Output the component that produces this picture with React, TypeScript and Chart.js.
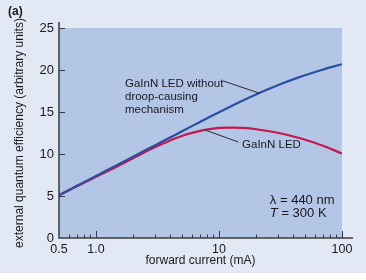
import React, { useEffect, useRef } from "react";
import { Chart, registerables } from "chart.js";

Chart.register(...registerables);

// ---- data ----
const currents = [0.5, 0.7, 1, 1.5, 2, 3, 4, 5, 7, 10, 13, 15, 20, 30, 45, 70, 100];
const noDroopEQE = [5.1, 6.21, 7.39, 8.73, 9.68, 11.01, 11.96, 12.7, 13.81, 14.97, 15.8, 16.24, 17.09, 18.18, 19.15, 20.05, 20.69];
const ledEQE = [5.1, 6.15, 7.3, 8.55, 9.5, 10.8, 11.6, 12.15, 12.75, 13.1, 13.15, 13.12, 12.95, 12.53, 11.9, 10.98, 10.05];

const xTickValues = [0.5, 1, 10, 100];
const xTickLabels = ["0.5", "1.0", "10", "100"];
const xMajorMarks = [1, 10, 100];
const xMinorMarks = [0.6, 0.7, 0.8, 0.9, 2, 3, 4, 5, 6, 7, 8, 9, 20, 30, 40, 50, 60, 70, 80, 90];
const yTickValues = [5, 10, 15, 20, 25];

const noDroopLabelLines = ["GaInN LED without", "droop-causing", "mechanism"];
const noDroopLabelPos = [1.72, 17.98];
const noDroopLeader = [[10.8, 18.7], [21.1, 17.26]];
const ledLabel = "GaInN LED";
const ledLabelPos = [15.4, 10.7];
const ledLeader = [[7.7, 12.86], [14.3, 11.43]];
const condLine1 = "λ = 440 nm";
const condLine2Italic = "T";
const condLine2Rest = " = 300 K";
const condPos = [25.9, 4.05];
const cond2Pos = [25.9, 2.5];

const FONT = "'Liberation Sans', Arial, sans-serif";
const TEXT = "#18181e";

const decorPlugin = {
  id: "decor",
  beforeDraw(chart: any) {
    const { ctx, chartArea } = chart;
    ctx.save();
    ctx.fillStyle = "#ffffff";
    ctx.fillRect(0, 0, chart.width, chart.height);
    ctx.fillStyle = "#e3e9f4";
    ctx.fillRect(0, 0, chart.width, 273);
    ctx.fillStyle = "#b4c6e6";
    ctx.fillRect(chartArea.left, chartArea.top, chartArea.right - chartArea.left, chartArea.bottom - chartArea.top);
    ctx.restore();
  },
  afterDraw(chart: any) {
    const { ctx, chartArea } = chart;
    const xs = chart.scales.x;
    const ys = chart.scales.y;
    const px = (v: number) => xs.getPixelForValue(v);
    const py = (v: number) => ys.getPixelForValue(v);
    ctx.save();
    // axes
    ctx.strokeStyle = "#3a3a40";
    ctx.lineWidth = 1.5;
    ctx.beginPath();
    ctx.moveTo(chartArea.left, chartArea.top - 6);
    ctx.lineTo(chartArea.left, chartArea.bottom);
    ctx.lineTo(chartArea.right + 11, chartArea.bottom);
    ctx.stroke();
    ctx.lineWidth = 1;
    ctx.beginPath();
    yTickValues.forEach((v) => {
      const y = Math.round(py(v)) + 0.5;
      ctx.moveTo(chartArea.left, y);
      ctx.lineTo(chartArea.left + 6, y);
    });
    xMajorMarks.forEach((v) => {
      const x = Math.round(px(v)) + 0.5;
      ctx.moveTo(x, chartArea.bottom);
      ctx.lineTo(x, chartArea.bottom - 7);
    });
    xMinorMarks.forEach((v) => {
      const x = Math.round(px(v)) + 0.5;
      ctx.moveTo(x, chartArea.bottom);
      ctx.lineTo(x, chartArea.bottom - 3.5);
    });
    ctx.stroke();

    // leaders
    ctx.strokeStyle = "#2b2b30";
    ctx.lineWidth = 1;
    [noDroopLeader, ledLeader].forEach((seg) => {
      ctx.beginPath();
      ctx.moveTo(px(seg[0][0]), py(seg[0][1]));
      ctx.lineTo(px(seg[1][0]), py(seg[1][1]));
      ctx.stroke();
    });

    // annotation text
    ctx.fillStyle = TEXT;
    ctx.textBaseline = "alphabetic";
    ctx.textAlign = "left";
    ctx.font = `11.5px ${FONT}`;
    noDroopLabelLines.forEach((t, i) => {
      ctx.fillText(t, px(noDroopLabelPos[0]), py(noDroopLabelPos[1]) + i * 13);
    });
    ctx.fillText(ledLabel, px(ledLabelPos[0]), py(ledLabelPos[1]));
    ctx.font = `13px ${FONT}`;
    ctx.fillText(condLine1, px(condPos[0]), py(condPos[1]));
    ctx.font = `italic 13px ${FONT}`;
    const x2 = px(cond2Pos[0]);
    ctx.fillText(condLine2Italic, x2, py(cond2Pos[1]));
    const w = ctx.measureText(condLine2Italic).width;
    ctx.font = `13px ${FONT}`;
    ctx.fillText(condLine2Rest, x2 + w, py(cond2Pos[1]));

    // panel label
    ctx.font = `bold 12px ${FONT}`;
    ctx.textBaseline = "middle";
    ctx.fillText("(a)", 8, 12);
    ctx.restore();
  },
};

export default function App() {
  const ref = useRef<HTMLCanvasElement | null>(null);
  useEffect(() => {
    document.body.style.margin = "0";
    const canvas = ref.current;
    if (!canvas) return;
    const chart = new Chart(canvas, {
      type: "line",
      data: {
        datasets: [
          {
            label: "GaInN LED without droop-causing mechanism",
            data: currents.map((c, i) => ({ x: c, y: noDroopEQE[i] })),
            borderColor: "#2a4ea2",
            borderWidth: 2.2,
            pointRadius: 0,
            tension: 0.4,
          },
          {
            label: "GaInN LED",
            data: currents.map((c, i) => ({ x: c, y: ledEQE[i] })),
            borderColor: "#c4184e",
            borderWidth: 2.2,
            pointRadius: 0,
            tension: 0.4,
          },
        ],
      },
      options: {
        animation: false,
        responsive: false,
        maintainAspectRatio: false,
        layout: { padding: { top: 28, right: 24, left: 0, bottom: 0 } },
        plugins: { legend: { display: false }, tooltip: { enabled: false } },
        scales: {
          x: {
            type: "logarithmic",
            min: 0.5,
            max: 100,
            afterBuildTicks: (s: any) => {
              s.ticks = xTickValues.map((v) => ({ value: v }));
            },
            afterFit: (s: any) => {
              s.height = 42;
            },
            grid: { display: false, drawTicks: false },
            border: { display: false },
            ticks: {
              autoSkip: false,
              maxRotation: 0,
              padding: 4,
              color: TEXT,
              font: { family: FONT, size: 12.5 },
              callback: (v: any) => {
                const i = xTickValues.indexOf(Number(v));
                return i >= 0 ? xTickLabels[i] : "";
              },
            },
            title: {
              display: true,
              text: "forward current (mA)",
              color: TEXT,
              font: { family: FONT, size: 12 },
              padding: { top: 0, bottom: 12 },
            },
          },
          y: {
            min: 0,
            max: 25,
            afterFit: (s: any) => {
              s.width = 59;
            },
            grid: { display: false, drawTicks: false },
            border: { display: false },
            ticks: {
              stepSize: 5,
              padding: 5,
              color: TEXT,
              font: { family: FONT, size: 13 },
            },
            title: {
              display: true,
              text: "external quantum efficiency (arbitrary units)",
              color: TEXT,
              font: { family: FONT, size: 12 },
              padding: { top: 12, bottom: 0 },
            },
          },
        },
      },
      plugins: [decorPlugin],
    } as any);
    return () => chart.destroy();
  }, []);
  return <canvas ref={ref} width={366} height={280} style={{ display: "block" }} />;
}
